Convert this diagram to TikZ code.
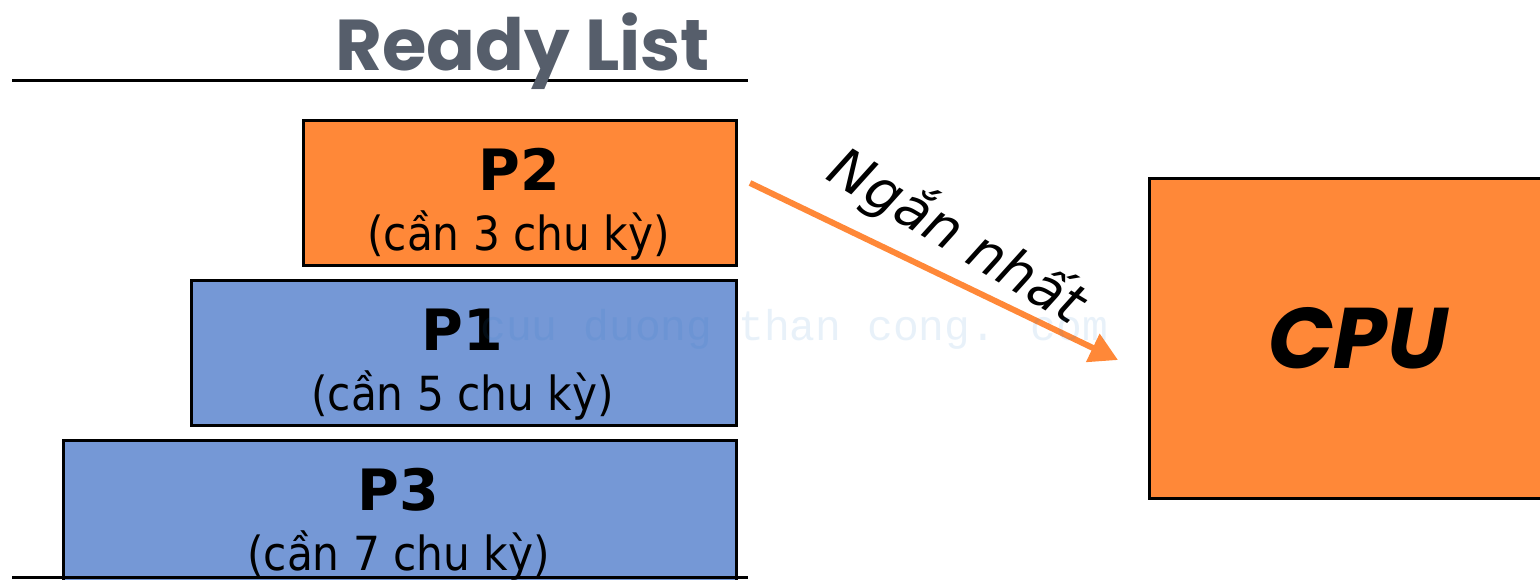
\documentclass[tikz,border=0pt]{standalone}
\usepackage{fontspec}
\setmainfont{DejaVu Sans Condensed}
\newfontfamily\tah{DejaVu Sans Condensed}
\newfontfamily\tahb{DejaVu Sans}
\newfontfamily\obl{DejaVu Sans}
\newfontfamily\comic{Poppins}
\newfontfamily\wm{Liberation Mono}
\usetikzlibrary{arrows.meta}
\definecolor{orangeF}{RGB}{255,136,56}
\definecolor{blueF}{RGB}{117,152,214}
\definecolor{grayT}{RGB}{86,94,107}
\definecolor{wmC}{RGB}{30,120,200}
\tikzset{
  procbox/.style={draw=black, line width=2.5pt, anchor=north west, inner sep=0pt},
  pname/.style={anchor=base, inner sep=0pt, font=\tahb\bfseries\fontsize{57}{60}\selectfont},
  psub/.style={anchor=base, inner sep=0pt, font=\tah\fontsize{47}{50}\selectfont},
  rule/.style={line width=3pt, black},
}
\begin{document}
\begin{tikzpicture}[x=1pt,y=-1pt]
\useasboundingbox (0,0) rectangle (1540,579);
\clip (0,0) rectangle (1540,579);
% boxes
\node[procbox, fill=orangeF, minimum width=433pt, minimum height=145pt] (p2) at (302,119) {};
\node[procbox, fill=blueF, minimum width=545pt, minimum height=145pt] (p1) at (190,279) {};
\node[procbox, fill=blueF, minimum width=673pt, minimum height=160pt] (p3) at (62,439) {};
\node[procbox, fill=orangeF, minimum width=420pt, minimum height=320pt] (cpu) at (1148,177) {};
% rules
\coordinate (t1) at (12,80); \coordinate (t2) at (748,80);
\coordinate (b1) at (12,577); \coordinate (b2) at (748,577);
\draw[rule] (t1) -- (t2);
\draw[rule] (b1) -- (b2);
% title
\node[anchor=base west, inner sep=0pt, text=grayT, font=\comic\bfseries\fontsize{72}{80}\selectfont] (title) at (335,70) {Ready List};
% labels
\node[pname] (p2n) at (519,190) {P2};
\node[psub] (p2s) at (518.5,250) {(cần 3 chu kỳ)};
\node[pname] (p1n) at (462.5,350) {P1};
\node[psub] (p1s) at (462.5,410) {(cần 5 chu kỳ)};
\node[pname] (p3n) at (398.5,510) {P3};
\node[psub] (p3s) at (398.5,570) {(cần 7 chu kỳ)};
\node[inner sep=0pt, font=\comic\bfseries\itshape\fontsize{86}{90}\selectfont] (cpuT) at (1358,338) {CPU};
% arrow
\coordinate (a1) at (750,183);
\coordinate (a2) at (1118,360);
\draw[orangeF, line width=6pt, -{Triangle[length=28pt,width=30pt]}] (a1) -- (a2);
\node[anchor=base, inner sep=0pt, rotate=-31, font=\obl\itshape\fontsize{55}{58}\selectfont] (lbl) at (948,252) {Ngắn nhất};
% watermark
\node[anchor=base west, inner sep=0pt, text=wmC, opacity=0.1, font=\wm\fontsize{43}{45}\selectfont] (wm) at (480,340) {cuu duong than cong. com};
\end{tikzpicture}
\end{document}
